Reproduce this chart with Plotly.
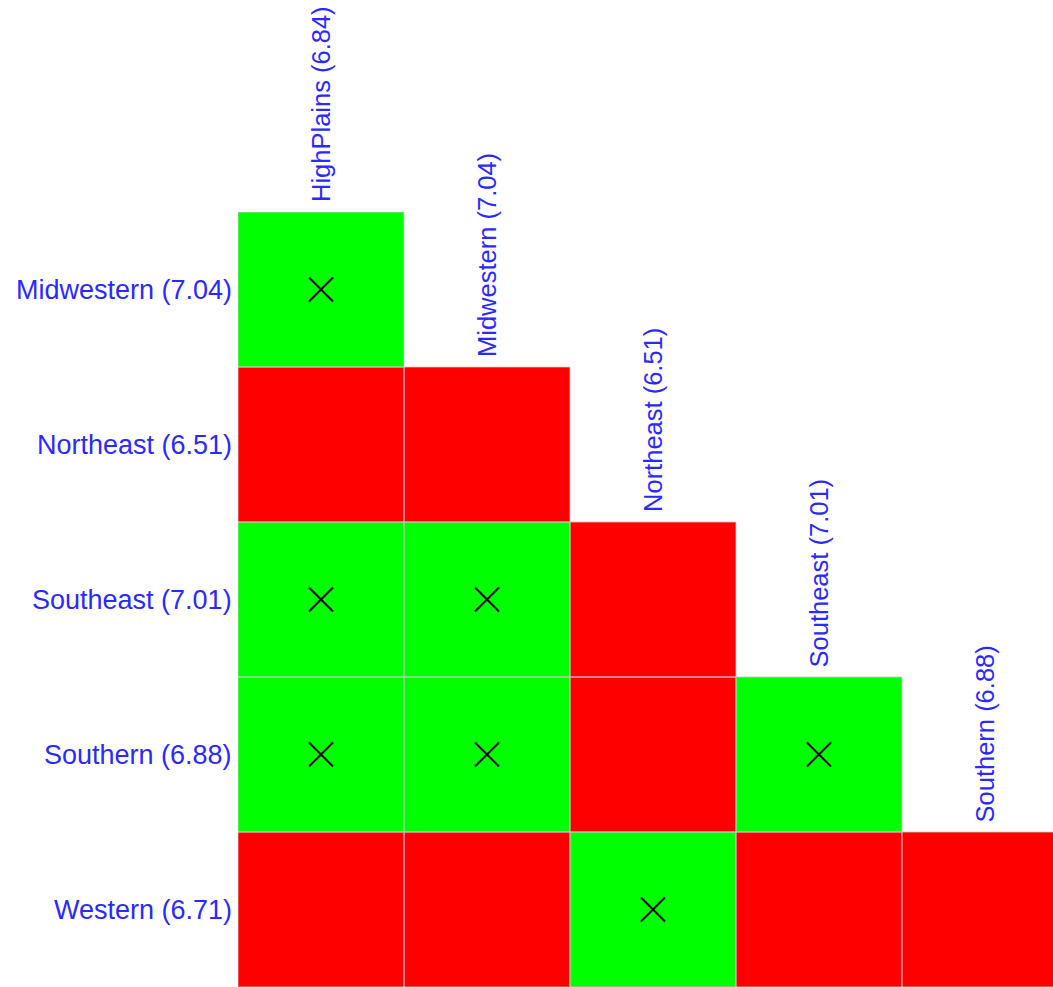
import plotly.graph_objects as go

# Data
col_names = ["HighPlains", "Midwestern", "Northeast", "Southeast", "Southern"]
col_means = [6.84, 7.04, 6.51, 7.01, 6.88]
row_names = ["Midwestern", "Northeast", "Southeast", "Southern", "Western"]
row_means = [7.04, 6.51, 7.01, 6.88, 6.71]
# 1 = not significantly different (green, with X), 0 = different (red), None = empty
matrix = [
    [1, None, None, None, None],
    [0, 0, None, None, None],
    [1, 1, 0, None, None],
    [1, 1, 0, 1, None],
    [0, 0, 1, 0, 0],
]

GREEN = "#00ff00"
RED = "#ff0000"
BLUE = "#2a2aff"
FONT = "Liberation Sans, Arial, sans-serif"
FS_ROW = 27
FS_COL = 25.5

n_rows = len(row_names)
n_cols = len(col_names)

fig = go.Figure()
fig.add_trace(go.Heatmap(
    z=matrix,
    x=list(range(n_cols)),
    y=list(range(n_rows)),
    colorscale=[[0, RED], [0.5, RED], [0.5, GREEN], [1, GREEN]],
    zmin=0, zmax=1, showscale=False, hoverinfo="skip",
))

# X markers on green cells
xs, ys = [], []
for i in range(n_rows):
    for j in range(n_cols):
        if matrix[i][j] == 1:
            xs.append(j)
            ys.append(i)
fig.add_trace(go.Scatter(
    x=xs, y=ys, mode="markers",
    marker=dict(symbol="x-thin", size=24, line=dict(color="black", width=2)),
    hoverinfo="skip", showlegend=False,
))

# Cell borders
shapes = []
for i in range(n_rows):
    for j in range(n_cols):
        if matrix[i][j] is not None:
            shapes.append(dict(type="rect", xref="x", yref="y",
                               x0=j - 0.5, x1=j + 0.5, y0=i - 0.5, y1=i + 0.5,
                               line=dict(color="rgba(200,200,200,0.8)", width=1),
                               layer="above"))

annotations = []
for i, (nm, mv) in enumerate(zip(row_names, row_means)):
    annotations.append(dict(text=f"{nm} ({mv:.2f})", xref="paper", yref="y",
                            x=0, y=i, xanchor="right", yanchor="middle",
                            xshift=-4, showarrow=False,
                            font=dict(color=BLUE, size=FS_ROW, family=FONT)))
for j, (nm, mv) in enumerate(zip(col_names, col_means)):
    annotations.append(dict(text=f"{nm} ({mv:.2f})", xref="x", yref="y",
                            x=j, y=j - 0.5, xanchor="center", yanchor="bottom",
                            textangle=-90, yshift=8, showarrow=False,
                            font=dict(color=BLUE, size=FS_COL, family=FONT)))

fig.update_layout(
    width=1053, height=987,
    margin=dict(l=238, r=0, t=212, b=0),
    paper_bgcolor="white", plot_bgcolor="white",
    xaxis=dict(range=[-0.5, 4.41], showgrid=False, zeroline=False,
               showticklabels=False, ticks=""),
    yaxis=dict(range=[4.5, -0.5], showgrid=False, zeroline=False,
               showticklabels=False, ticks=""),
    shapes=shapes, annotations=annotations, showlegend=False,
)

fig.write_html("out.html")
